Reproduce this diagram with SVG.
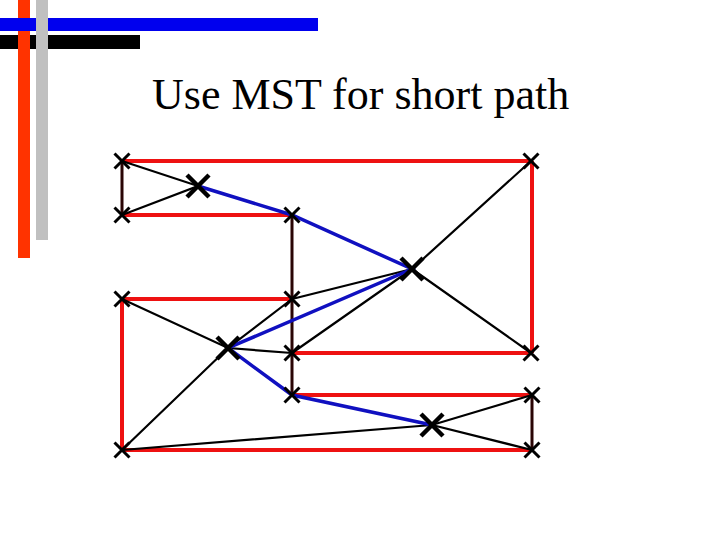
<svg xmlns="http://www.w3.org/2000/svg" width="720" height="540" viewBox="0 0 720 540">
<style>
.r{stroke:#ee1111;stroke-width:4;fill:none}
.k{stroke:#000;stroke-width:2.2;fill:none}
.d{stroke:#2a0505;stroke-width:3;fill:none}
.b{stroke:#1010c0;stroke-width:3.5;fill:none}
.x{stroke:#000;stroke-width:3;fill:none}
.X{stroke:#000;stroke-width:4.5;fill:none}
.t{font-family:"Liberation Serif","Times New Roman",serif;font-size:44px;fill:#000}
</style>
<defs>
<path id="sx" d="M-7.5,-7.5L7.5,7.5M-7.5,7.5L7.5,-7.5"/>
<path id="lx" d="M-11,-11L11,11M-11,11L11,-11"/>
</defs>
<g id="decoration">
<rect x="0" y="35" width="140" height="14" fill="#000"/>
<rect x="18" y="0" width="12" height="258" fill="#ff3300"/>
<rect x="0" y="18" width="318" height="13" fill="#0000ee"/>
<rect x="36" y="0" width="12" height="240" fill="#c0c0c0"/>
</g>
<g id="title"><text class="t" x="152" y="109">Use MST for short path</text></g>
<g id="connectors">
<path class="r" d="M122,161H531M122,215H292M122,299H292M292,353H531M292,395H532M122,450H532M532,161V353M122,299V450"/>
<path class="d" d="M122,161V215M292,215V395M532,395V450"/>
<path class="k" d="M122,161L198,186L122,215M412,269L531,161M412,269L531,353M292,299L412,269M292,353L412,269M122,299L228,348L292,353M122,450L228,348L292,299M122,450L432,425L532,395M432,425L532,450"/>
<path class="b" d="M198,186L292,215L412,269L228,348L292,395L432,425"/>
</g>
<g id="nA"><use href="#sx" class="x" x="122" y="161"/></g>
<g id="nB"><use href="#lx" class="X" x="198" y="186"/></g>
<g id="nC"><use href="#sx" class="x" x="122" y="215"/></g>
<g id="nD"><use href="#sx" class="x" x="292" y="215"/></g>
<g id="nE"><use href="#sx" class="x" x="531" y="161"/></g>
<g id="nF"><use href="#lx" class="X" x="412" y="269"/></g>
<g id="nG"><use href="#sx" class="x" x="122" y="299"/></g>
<g id="nH"><use href="#sx" class="x" x="292" y="299"/></g>
<g id="nI"><use href="#lx" class="X" x="228" y="348"/></g>
<g id="nJ"><use href="#sx" class="x" x="292" y="353"/></g>
<g id="nK"><use href="#sx" class="x" x="531" y="353"/></g>
<g id="nL"><use href="#sx" class="x" x="292" y="395"/></g>
<g id="nM"><use href="#sx" class="x" x="532" y="395"/></g>
<g id="nN"><use href="#lx" class="X" x="432" y="425"/></g>
<g id="nO"><use href="#sx" class="x" x="122" y="450"/></g>
<g id="nP"><use href="#sx" class="x" x="532" y="450"/></g>
</svg>
